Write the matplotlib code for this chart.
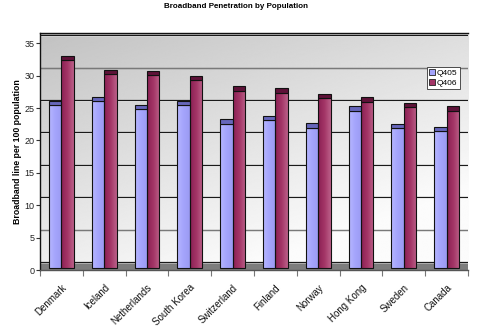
import numpy as np
import matplotlib
matplotlib.use('Agg')
import matplotlib.pyplot as plt
from matplotlib.colors import LinearSegmentedColormap
from matplotlib.patches import Patch

countries = ['Denmark', 'Iceland', 'Netherlands', 'South Korea', 'Switzerland',
             'Finland', 'Norway', 'Hong Kong', 'Sweden', 'Canada']
q405 = [24.9, 25.5, 24.2, 24.9, 22.0, 22.5, 21.4, 24.0, 21.3, 20.8]
q406 = [31.8, 29.7, 29.5, 28.7, 27.1, 26.8, 26.0, 25.4, 24.6, 24.0]
series_names = ['Q405', 'Q406']
yticks = [0, 5, 10, 15, 20, 25, 30, 35]
title = 'Broadband Penetration by Population'
ylabel = 'Broadband line per 100 population'

plt.rcParams['font.family'] = ['Liberation Sans', 'DejaVu Sans']

fig = plt.figure(figsize=(4.8, 3.3), dpi=100)
fig.patch.set_facecolor('white')
ax = fig.add_axes([40/480, 1-270/330, 428/480, 237/330])

depth = 1.25   # pseudo-3D depth offset
cap = 0.65     # visible top face height
base = 0.25
ymax = 36.6
n = len(countries)
ax.set_xlim(0, n)
ax.set_ylim(0, ymax)

# back wall gradient
gx = np.linspace(0, 1, 300)[None, :]
gy = np.linspace(0, 1, 300)[:, None]
bg = np.clip(0.76 + 0.11*gx + 0.17*gy, 0, 0.985)
ax.imshow(bg, cmap='gray', vmin=0, vmax=1, extent=(0, n, depth, ymax),
          aspect='auto', origin='upper', zorder=0, interpolation='bilinear')
# floor
ax.axhspan(0, depth, color='#7d7d7d', zorder=0.5, lw=0)

# back-wall gridlines
for g in yticks:
    ax.axhline(g + depth, color='#1a1a1a', lw=0.9, zorder=1)
    ax.axhline(g + depth - 0.12, color='white', lw=0.5, alpha=0.6, zorder=1)

w = 0.29
fronts = [
    LinearSegmentedColormap.from_list('b', ['#b6b6ff', '#a4a4fc', '#9b9bf2']),
    LinearSegmentedColormap.from_list('r', ['#8a2053', '#a33566', '#bb6089']),
]
cap_colors = ['#6666bb', '#5e1238']
grad = np.linspace(0, 1, 64)[None, :]

for j, vals in enumerate([q405, q406]):
    x = np.arange(n) + 0.5 - w + j*w
    v = np.array(vals)
    front = ax.bar(x, v + depth - cap - base, bottom=base, width=w, align='edge',
                   facecolor='none', edgecolor='#111111', lw=0.8, zorder=3)
    for p in front.patches:
        bx, by = p.get_x(), p.get_y()
        im = ax.imshow(grad, cmap=fronts[j], extent=(bx, bx + p.get_width(), by, by + p.get_height()),
                       aspect='auto', zorder=2.5, interpolation='bilinear')
        im.set_clip_path(p)
    ax.bar(x, cap, bottom=v + depth - cap, width=w, align='edge',
           facecolor=cap_colors[j], edgecolor='#111111', lw=0.8, zorder=3)

ax.set_xlim(0, n)
ax.set_ylim(0, ymax)

ax.set_yticks(yticks)
ax.set_yticklabels([str(t) for t in yticks], fontsize=6.5, color='#222222')
ax.tick_params(axis='y', length=3, width=0.8, color='#333333', pad=1)

ax.set_xticks(np.arange(n + 1))
ax.set_xticklabels([])
ax.set_xticks(np.arange(n) + 0.5, minor=True)
ax.set_xticklabels(countries, minor=True, rotation=45, ha='right', va='top',
                   rotation_mode='anchor', fontsize=7, color='#111111')
ax.tick_params(axis='x', which='major', length=4, width=0.8, color='#777777')
ax.tick_params(axis='x', which='minor', length=0, pad=9)

for s in ['left', 'top']:
    ax.spines[s].set_color('#111111')
    ax.spines[s].set_linewidth(1)
ax.spines['right'].set_visible(False)
ax.spines['bottom'].set_color('#555555')
ax.spines['bottom'].set_linewidth(1)

handles = [Patch(facecolor='#a4a4fc', edgecolor='#222222', lw=0.6),
           Patch(facecolor='#a33566', edgecolor='#222222', lw=0.6)]
leg = ax.legend(handles, series_names, loc='upper left', bbox_to_anchor=(0.905, 0.855),
                fontsize=6, handlelength=0.7, handleheight=0.7, handletextpad=0.2,
                borderpad=0.25, labelspacing=0.25, borderaxespad=0, fancybox=False,
                framealpha=1, facecolor='white', edgecolor='#333333')
leg.get_frame().set_linewidth(0.6)
leg.set_zorder(5)

fig.text(236/480, 1-7/330, title, ha='center', va='center', fontsize=5.8, fontweight='bold')
fig.text(18/480, 1-152/330, ylabel, ha='center', va='center', rotation=90,
         fontsize=6.3, fontweight='bold')

fig.savefig('out.png', dpi=100, facecolor='white')
